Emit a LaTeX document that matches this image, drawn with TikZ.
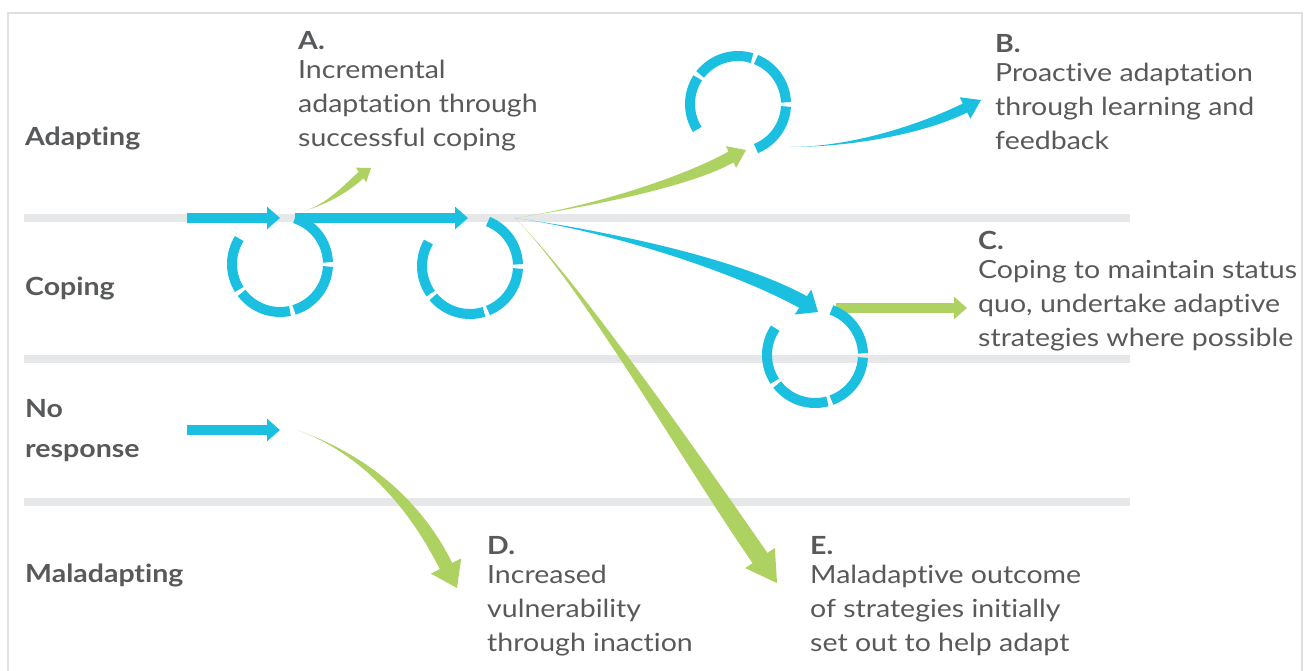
\documentclass[tikz,border=0pt]{standalone}
\usepackage{fontspec}
\setmainfont{Lato}[Ligatures=NoCommon, FakeStretch=1.14]
\usetikzlibrary{positioning, arrows.meta, calc}

\definecolor{cblue}{HTML}{1BBFE0}
\definecolor{cgreen}{HTML}{AED262}
\definecolor{cband}{HTML}{E6E7E8}
\definecolor{ctext}{HTML}{58595B}

% tapered arrow: colour, start, control 1, control 2, head base, tip, shaft half width, head half width
\newcommand\taper[8]{%
  \coordinate (tl) at ($(#5)!#7!90:(#6)$);
  \coordinate (tr) at ($(#5)!#7!-90:(#6)$);
  \coordinate (hl) at ($(#5)!#8!90:(#6)$);
  \coordinate (hr) at ($(#5)!#8!-90:(#6)$);
  \fill[#1] (#2) .. controls (#3) and ($(#4)+(tl)-(#5)$) .. (tl) -- (hl) -- (#6) -- (hr) -- (tr)
    .. controls ($(#4)+(tr)-(#5)$) and (#3) .. cycle;
}

\begin{document}
\begin{tikzpicture}[x=1pt, y=1pt,
    band/.style={cband, line width=8pt},
    ring/.style={cblue, line width=10pt},
    flow/.style={line width=10pt, -{Triangle[width=22pt,length=13pt]}},
    row/.style={anchor=base west, inner sep=0pt, text=ctext, align=left,
      font=\fontsize{25}{40}\selectfont\bfseries},
    note/.style={anchor=north west, inner sep=0pt, text=ctext, align=left,
      font=\fontsize{25}{34}\selectfont}
  ]
  \useasboundingbox (0,0) rectangle (1309,-670);
  \draw[gray!25, line width=1.5pt] (8,-13) rectangle (1302,-700);

  % lanes
  \foreach \y/\n in {218/one, 359/two, 502/three} {
    \coordinate (\n w) at (24,-\y);
    \coordinate (\n e) at (1130,-\y);
    \draw[band] (\n w) -- (\n e);
  }

  \node[row] (adapting) at (25,-145) {Adapting};
  \node[row] (coping) at (25,-295) {Coping};
  \node[row] (noresp) at (25,-457) {No\\response};
  \node[row] (maladapting) at (25,-582) {Maladapting};

  % loops
  \coordinate (loop1) at (280,-264);
  \coordinate (loop2) at (470,-266);
  \coordinate (loop3) at (738,-104);
  \coordinate (loop4) at (815,-355);

  \foreach \a/\b in {72/2, -3/-73, -78/-143, -148/-212}
    \draw[ring] (loop1) ++(\a:48) arc[start angle=\a, end angle=\b, radius=48];
  \foreach \a/\b in {68/2, -3/-68, -73/-140, -145/-210}
    \draw[ring] (loop2) ++(\a:48) arc[start angle=\a, end angle=\b, radius=48];
  \foreach \a/\b in {-68/-3, 2/68, 73/142, 147/212}
    \draw[ring] (loop3) ++(\a:48) arc[start angle=\a, end angle=\b, radius=48];

  \coordinate (c0) at (836,-308);
  \coordinate (c1) at (967,-308);
  \draw[flow, cgreen] (c0) -- (c1);
  \foreach \a/\b in {70/2, -3/-70, -75/-142, -147/-214}
    \draw[ring] (loop4) ++(\a:48) arc[start angle=\a, end angle=\b, radius=48];

  % straight arrows
  \coordinate (in1) at (187,-218);
  \coordinate (in1t) at (280,-218);
  \coordinate (mid0) at (295,-218);
  \coordinate (mid1) at (468,-218);
  \coordinate (in2) at (187,-430);
  \coordinate (in2t) at (280,-430);
  \draw[flow, cblue] (in1) -- (in1t);
  \draw[flow, cblue] (mid0) -- (mid1);
  \draw[flow, cblue] (in2) -- (in2t);

  % tapered arrows
  \coordinate (hub) at (515,-218);
  \coordinate (aS) at (304,-211);   \coordinate (aB) at (361,-175);  \coordinate (aT) at (371,-168);
  \coordinate (bS) at (731,-157);   \coordinate (bT) at (746,-150);
  \coordinate (cB) at (803,-302);   \coordinate (cT) at (818,-312);
  \coordinate (eB) at (760,-558);   \coordinate (eT) at (777,-583);
  \coordinate (dS) at (297,-430);   \coordinate (dB) at (446,-566);  \coordinate (dT) at (457,-588);
  \coordinate (fS) at (790,-147);   \coordinate (fB) at (965,-108);  \coordinate (fT) at (981,-100);

  \taper{cgreen}{aS}{325,-205}{345,-190}{aB}{aT}{4pt}{9pt}
  \taper{cgreen}{hub}{600,-205}{690,-180}{bS}{bT}{6pt}{12pt}
  \taper{cblue}{hub}{600,-230}{730,-262}{cB}{cT}{7pt}{15pt}
  \taper{cgreen}{hub}{580,-283}{692,-460}{eB}{eT}{9pt}{18pt}
  \taper{cgreen}{dS}{345,-447}{406,-486}{dB}{dT}{7pt}{17pt}
  \taper{cblue}{fS}{850,-147}{920,-130}{fB}{fT}{5pt}{12pt}

  % outcomes
  \node[note] (A) at (298,-31) {\textbf{A.}\\[-5pt]Incremental\\adaptation through\\successful coping};
  \node[note] (B) at (995,-34) {\textbf{B.}\\[-5pt]Proactive adaptation\\through learning and\\feedback};
  \node[note] (C) at (978,-231) {\textbf{C.}\\[-5pt]Coping to maintain status\\quo, undertake adaptive\\strategies where possible};
  \node[note] (D) at (487,-536) {\textbf{D.}\\[-5pt]Increased\\vulnerability\\through inaction};
  \node[note] (E) at (810,-536) {\textbf{E.}\\[-5pt]Maladaptive outcome\\of strategies initially\\set out to help adapt};
\end{tikzpicture}
\end{document}
